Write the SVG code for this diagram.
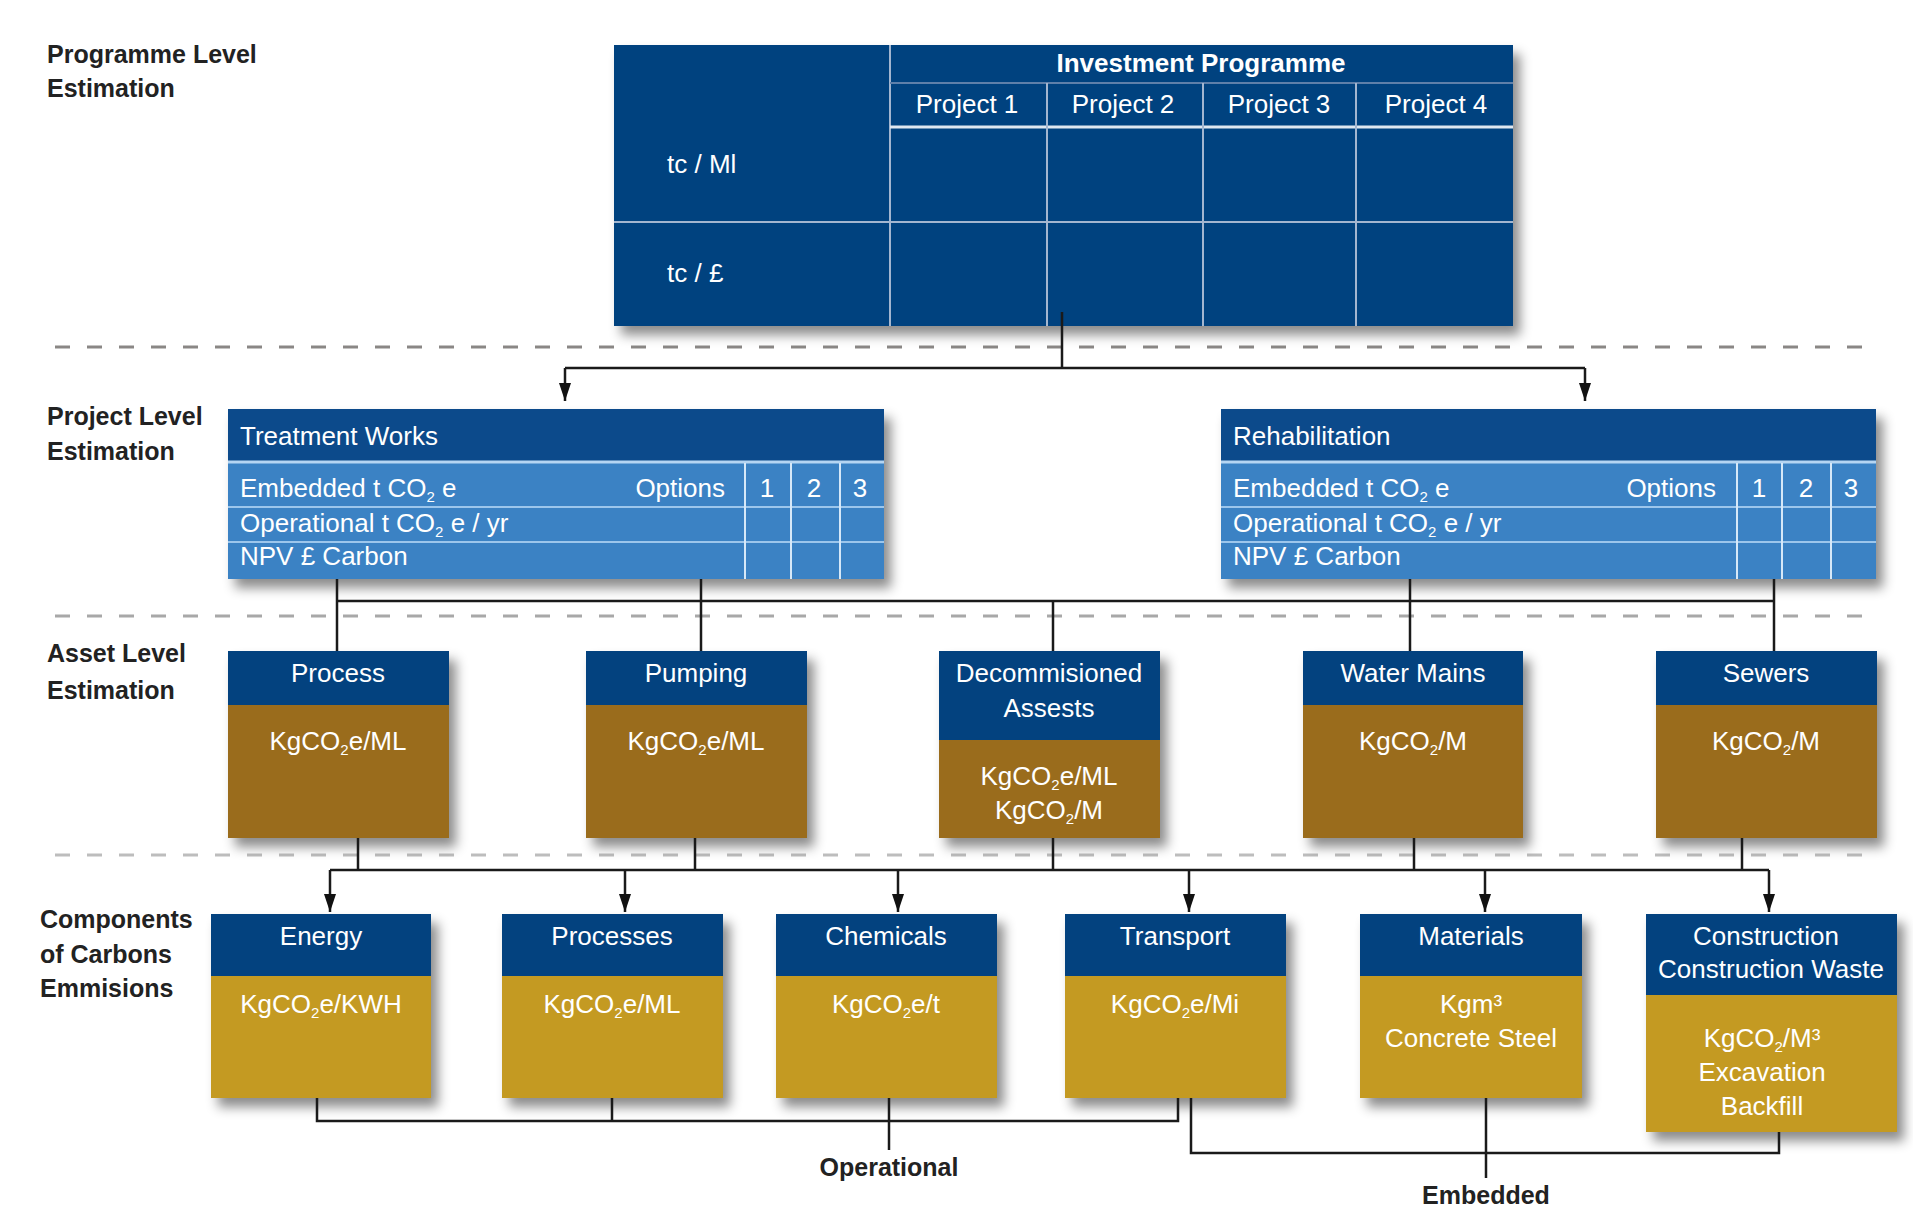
<svg xmlns="http://www.w3.org/2000/svg" width="1913" height="1208" viewBox="0 0 1913 1208">
  <defs>
    <filter id="sh" x="-10%" y="-10%" width="130%" height="140%">
      <feDropShadow dx="7" dy="9" stdDeviation="6" flood-color="#000" flood-opacity="0.45"/>
    </filter>
    <marker id="arr" viewBox="0 0 18 12" refX="18" refY="6" markerWidth="18" markerHeight="12" markerUnits="userSpaceOnUse" orient="auto">
      <path d="M0,0 L18,6 L0,12 z" fill="#111"/>
    </marker>
    <style>
      .lbl { font-family: "Liberation Sans", Arial, sans-serif; font-size: 25px; font-weight: bold; fill: #222; }
      .w { font-family: "Liberation Sans", Arial, sans-serif; font-size: 26px; fill: #fff; }
      .wb { font-family: "Liberation Sans", Arial, sans-serif; font-size: 26px; font-weight: bold; fill: #fff; }
      .c { text-anchor: middle; }
      .sub { font-size: 15px; }
      .navy { fill: #03427f; }
      .hdr { fill: #0c4a8b; }
      .lite { fill: #3b82c4; }
      .brown { fill: #9a6c1c; }
      .gold { fill: #c49a21; }
      .tl { stroke: #a3b6d0; stroke-width: 2; fill: none; }
      .pl { stroke: #9cc6ec; stroke-width: 2; fill: none; }
      .pv { stroke: #d6e8f8; stroke-width: 2; fill: none; }
      .con { stroke: #1a1a1a; stroke-width: 2.5; fill: none; }
      .dash { stroke-width: 3; stroke-dasharray: 15 17; fill: none; }
    </style>
  </defs>

  <!-- level separators -->
  <g id="separators">
    <line class="dash" x1="55" y1="347" x2="1876" y2="347" stroke="#8a8785"/>
    <line class="dash" x1="55" y1="616" x2="1876" y2="616" stroke="#a8a8a8"/>
    <line class="dash" x1="55" y1="855" x2="1876" y2="855" stroke="#bdbdbd"/>
  </g>

  <!-- level labels -->
  <g id="level-labels">
    <text class="lbl" x="47" y="63">Programme Level</text>
    <text class="lbl" x="47" y="97">Estimation</text>
    <text class="lbl" x="47" y="425">Project Level</text>
    <text class="lbl" x="47" y="460">Estimation</text>
    <text class="lbl" x="47" y="662">Asset Level</text>
    <text class="lbl" x="47" y="699">Estimation</text>
    <text class="lbl" x="40" y="928">Components</text>
    <text class="lbl" x="40" y="963">of Carbons</text>
    <text class="lbl" x="40" y="997">Emmisions</text>
  </g>

  <!-- Investment programme table -->
  <g id="investment-programme">
    <rect class="navy" x="614" y="45" width="899" height="281" filter="url(#sh)"/>
    <line class="tl" x1="890" y1="45" x2="890" y2="326"/>
    <line x1="890" y1="83" x2="1513" y2="83" stroke="#5f80aa" stroke-width="2"/>
    <line x1="890" y1="127" x2="1513" y2="127" stroke="#dfe7f0" stroke-width="3"/>
    <line class="tl" x1="614" y1="222" x2="1513" y2="222"/>
    <line class="tl" x1="1047" y1="83" x2="1047" y2="326"/>
    <line class="tl" x1="1203" y1="83" x2="1203" y2="326"/>
    <line class="tl" x1="1356" y1="83" x2="1356" y2="326"/>
    <text class="wb c" x="1201" y="72">Investment Programme</text>
    <text class="w c" x="967" y="113">Project 1</text>
    <text class="w c" x="1123" y="113">Project 2</text>
    <text class="w c" x="1279" y="113">Project 3</text>
    <text class="w c" x="1436" y="113">Project 4</text>
    <text class="w" x="667" y="173">tc / Ml</text>
    <text class="w" x="667" y="282">tc / £</text>
  </g>

  <!-- Treatment Works -->
  <g id="treatment-works">
    <rect class="lite" x="228" y="409" width="656" height="170" filter="url(#sh)"/>
    <rect class="hdr" x="228" y="409" width="656" height="52"/>
    <line x1="228" y1="462" x2="884" y2="462" stroke="#b5d5f2" stroke-width="3"/>
    <line class="pl" x1="228" y1="507" x2="884" y2="507"/>
    <line class="pl" x1="228" y1="542" x2="884" y2="542"/>
    <line class="pv" x1="745" y1="463" x2="745" y2="579"/>
    <line class="pv" x1="791" y1="463" x2="791" y2="579"/>
    <line class="pv" x1="840" y1="463" x2="840" y2="579"/>
    <text class="w" x="240" y="445">Treatment Works</text>
    <text class="w" x="240" y="497">Embedded t CO<tspan class="sub" dy="5">2</tspan><tspan dy="-5"> e</tspan></text>
    <text class="w" x="240" y="532">Operational t CO<tspan class="sub" dy="5">2</tspan><tspan dy="-5"> e / yr</tspan></text>
    <text class="w" x="240" y="565">NPV £ Carbon</text>
    <text class="w" x="725" y="497" text-anchor="end">Options</text>
    <text class="w c" x="767" y="497">1</text>
    <text class="w c" x="814" y="497">2</text>
    <text class="w c" x="860" y="497">3</text>
  </g>

  <!-- Rehabilitation -->
  <g id="rehabilitation">
    <rect class="lite" x="1221" y="409" width="655" height="170" filter="url(#sh)"/>
    <rect class="hdr" x="1221" y="409" width="655" height="52"/>
    <line x1="1221" y1="462" x2="1876" y2="462" stroke="#b5d5f2" stroke-width="3"/>
    <line class="pl" x1="1221" y1="507" x2="1876" y2="507"/>
    <line class="pl" x1="1221" y1="542" x2="1876" y2="542"/>
    <line class="pv" x1="1737" y1="463" x2="1737" y2="579"/>
    <line class="pv" x1="1782" y1="463" x2="1782" y2="579"/>
    <line class="pv" x1="1831" y1="463" x2="1831" y2="579"/>
    <text class="w" x="1233" y="445">Rehabilitation</text>
    <text class="w" x="1233" y="497">Embedded t CO<tspan class="sub" dy="5">2</tspan><tspan dy="-5"> e</tspan></text>
    <text class="w" x="1233" y="532">Operational t CO<tspan class="sub" dy="5">2</tspan><tspan dy="-5"> e / yr</tspan></text>
    <text class="w" x="1233" y="565">NPV £ Carbon</text>
    <text class="w" x="1716" y="497" text-anchor="end">Options</text>
    <text class="w c" x="1759" y="497">1</text>
    <text class="w c" x="1806" y="497">2</text>
    <text class="w c" x="1851" y="497">3</text>
  </g>

  <!-- Asset level -->
  <g id="process">
    <rect class="brown" x="228" y="651" width="221" height="187" filter="url(#sh)"/>
    <rect class="navy" x="228" y="651" width="221" height="54"/>
    <text class="w c" x="338" y="682">Process</text>
    <text class="w c" x="338" y="750">KgCO<tspan class="sub" dy="5">2</tspan><tspan dy="-5">e/ML</tspan></text>
  </g>
  <g id="pumping">
    <rect class="brown" x="586" y="651" width="221" height="187" filter="url(#sh)"/>
    <rect class="navy" x="586" y="651" width="221" height="54"/>
    <text class="w c" x="696" y="682">Pumping</text>
    <text class="w c" x="696" y="750">KgCO<tspan class="sub" dy="5">2</tspan><tspan dy="-5">e/ML</tspan></text>
  </g>
  <g id="decommissioned">
    <rect class="brown" x="939" y="651" width="221" height="187" filter="url(#sh)"/>
    <rect class="navy" x="939" y="651" width="221" height="89"/>
    <text class="w c" x="1049" y="682">Decommisioned</text>
    <text class="w c" x="1049" y="717">Assests</text>
    <text class="w c" x="1049" y="785">KgCO<tspan class="sub" dy="5">2</tspan><tspan dy="-5">e/ML</tspan></text>
    <text class="w c" x="1049" y="819">KgCO<tspan class="sub" dy="5">2</tspan><tspan dy="-5">/M</tspan></text>
  </g>
  <g id="water-mains">
    <rect class="brown" x="1303" y="651" width="220" height="187" filter="url(#sh)"/>
    <rect class="navy" x="1303" y="651" width="220" height="54"/>
    <text class="w c" x="1413" y="682">Water Mains</text>
    <text class="w c" x="1413" y="750">KgCO<tspan class="sub" dy="5">2</tspan><tspan dy="-5">/M</tspan></text>
  </g>
  <g id="sewers">
    <rect class="brown" x="1656" y="651" width="221" height="187" filter="url(#sh)"/>
    <rect class="navy" x="1656" y="651" width="221" height="54"/>
    <text class="w c" x="1766" y="682">Sewers</text>
    <text class="w c" x="1766" y="750">KgCO<tspan class="sub" dy="5">2</tspan><tspan dy="-5">/M</tspan></text>
  </g>

  <!-- Components -->
  <g id="energy">
    <rect class="gold" x="211" y="914" width="220" height="184" filter="url(#sh)"/>
    <rect class="navy" x="211" y="914" width="220" height="62"/>
    <text class="w c" x="321" y="945">Energy</text>
    <text class="w c" x="321" y="1013">KgCO<tspan class="sub" dy="5">2</tspan><tspan dy="-5">e/KWH</tspan></text>
  </g>
  <g id="processes">
    <rect class="gold" x="502" y="914" width="221" height="184" filter="url(#sh)"/>
    <rect class="navy" x="502" y="914" width="221" height="62"/>
    <text class="w c" x="612" y="945">Processes</text>
    <text class="w c" x="612" y="1013">KgCO<tspan class="sub" dy="5">2</tspan><tspan dy="-5">e/ML</tspan></text>
  </g>
  <g id="chemicals">
    <rect class="gold" x="776" y="914" width="221" height="184" filter="url(#sh)"/>
    <rect class="navy" x="776" y="914" width="221" height="62"/>
    <text class="w c" x="886" y="945">Chemicals</text>
    <text class="w c" x="886" y="1013">KgCO<tspan class="sub" dy="5">2</tspan><tspan dy="-5">e/t</tspan></text>
  </g>
  <g id="transport">
    <rect class="gold" x="1065" y="914" width="221" height="184" filter="url(#sh)"/>
    <rect class="navy" x="1065" y="914" width="221" height="62"/>
    <text class="w c" x="1175" y="945">Transport</text>
    <text class="w c" x="1175" y="1013">KgCO<tspan class="sub" dy="5">2</tspan><tspan dy="-5">e/Mi</tspan></text>
  </g>
  <g id="materials">
    <rect class="gold" x="1360" y="914" width="222" height="184" filter="url(#sh)"/>
    <rect class="navy" x="1360" y="914" width="222" height="62"/>
    <text class="w c" x="1471" y="945">Materials</text>
    <text class="w c" x="1471" y="1013">Kgm³</text>
    <text class="w c" x="1471" y="1047">Concrete Steel</text>
  </g>
  <g id="construction">
    <rect class="gold" x="1646" y="914" width="251" height="218" filter="url(#sh)"/>
    <rect class="navy" x="1646" y="914" width="251" height="81"/>
    <text class="w c" x="1766" y="945">Construction</text>
    <text class="w c" x="1771" y="978">Construction Waste</text>
    <text class="w c" x="1762" y="1047">KgCO<tspan class="sub" dy="5">2</tspan><tspan dy="-5">/M³</tspan></text>
    <text class="w c" x="1762" y="1081">Excavation</text>
    <text class="w c" x="1762" y="1115">Backfill</text>
  </g>

  <!-- Connectors -->
  <g id="connectors" class="con">
    <path d="M1062,312 V368"/>
    <path d="M565,368 H1585"/>
    <path d="M565,368 V401" marker-end="url(#arr)"/>
    <path d="M1585,368 V401" marker-end="url(#arr)"/>

    <path d="M337,601 H1774"/>
    <path d="M337,579 V651"/>
    <path d="M701,579 V651"/>
    <path d="M1053,601 V651"/>
    <path d="M1410,579 V651"/>
    <path d="M1774,579 V651"/>

    <path d="M330,870 H1769"/>
    <path d="M358,838 V870"/>
    <path d="M695,838 V870"/>
    <path d="M1053,838 V870"/>
    <path d="M1414,838 V870"/>
    <path d="M1742,838 V870"/>
    <path d="M330,870 V912" marker-end="url(#arr)"/>
    <path d="M625,870 V912" marker-end="url(#arr)"/>
    <path d="M898,870 V912" marker-end="url(#arr)"/>
    <path d="M1189,870 V912" marker-end="url(#arr)"/>
    <path d="M1485,870 V912" marker-end="url(#arr)"/>
    <path d="M1769,870 V912" marker-end="url(#arr)"/>

    <path d="M317,1098 V1121 H1178 V1098"/>
    <path d="M612,1098 V1121"/>
    <path d="M889,1098 V1150"/>
    <path d="M1191,1098 V1153 H1779 V1132"/>
    <path d="M1486,1098 V1178"/>
  </g>

  <g id="group-labels">
    <text class="lbl c" x="889" y="1176">Operational</text>
    <text class="lbl c" x="1486" y="1204">Embedded</text>
  </g>
</svg>
